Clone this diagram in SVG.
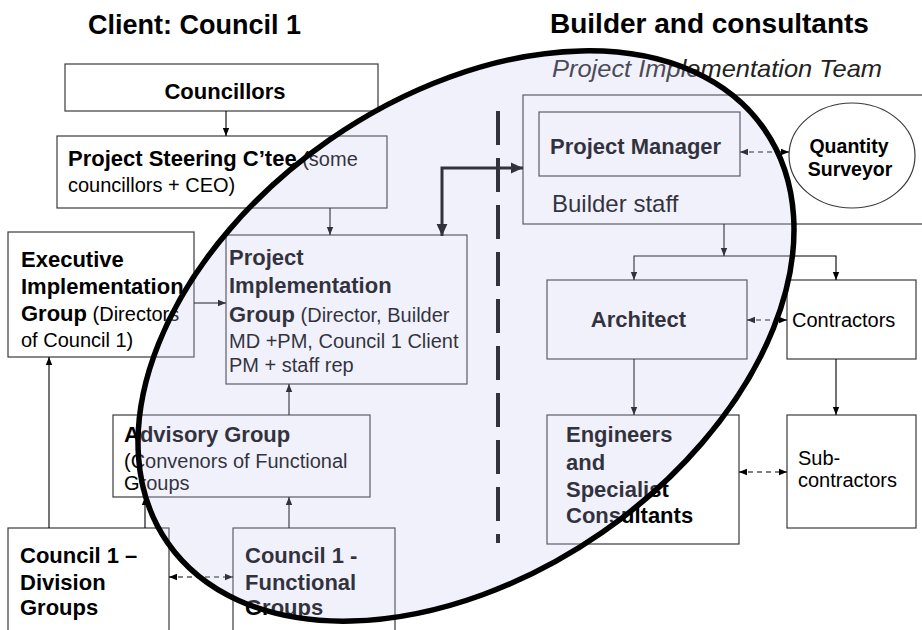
<svg xmlns="http://www.w3.org/2000/svg" width="922" height="630" viewBox="0 0 922 630">
<style>
.box{fill:#ffffff;stroke:#3a3a3a;stroke-width:1.2}
.b{font-family:"Liberation Sans",Arial,sans-serif;font-weight:bold;font-size:22px;fill:#000}
.r{font-family:"Liberation Sans",Arial,sans-serif;font-weight:normal;font-size:20px;fill:#000}
.t{font-family:"Liberation Sans",Arial,sans-serif;font-weight:bold;font-size:27px;fill:#000}
.ln{fill:none;stroke:#000;stroke-width:1.1}
.dl{fill:none;stroke:#000;stroke-width:1.1;stroke-dasharray:5 4}
</style>
<defs>
<marker id="ah" viewBox="0 0 10 10" refX="10" refY="5" markerWidth="8" markerHeight="8" markerUnits="userSpaceOnUse" orient="auto-start-reverse"><path d="M0,1 L10,5 L0,9 z" fill="#000"/></marker>
<marker id="ahb" viewBox="0 0 10 10" refX="10" refY="5" markerWidth="13" markerHeight="12" markerUnits="userSpaceOnUse" orient="auto-start-reverse"><path d="M0,0.5 L10,5 L0,9.5 z" fill="#000"/></marker>
</defs>
<g id="titles">
<text class="t" x="88" y="34">Client: Council 1</text>
<text class="t" x="550" y="33" style="font-size:28px">Builder and consultants</text>
<text x="552" y="77" font-family="Liberation Sans, Arial, sans-serif" font-style="italic" font-size="24" fill="#222" textLength="330" lengthAdjust="spacingAndGlyphs">Project Implementation Team</text>
</g>
<g id="councillors"><rect class="box" x="65" y="64" width="313" height="47"/><text class="b" x="225" y="99" text-anchor="middle">Councillors</text></g>
<g id="steering"><rect class="box" x="57" y="136" width="330" height="72"/><text class="b" x="68" y="166">Project Steering C’tee<tspan class="r"> (some</tspan></text><text class="r" x="68" y="192">councillors + CEO)</text></g>
<g id="executive"><rect class="box" x="8" y="232" width="186" height="125"/><text class="b" x="21" y="267">Executive</text><text class="b" x="21" y="294">Implementation</text><text class="b" x="21" y="321">Group<tspan class="r"> (Directors</tspan></text><text class="r" x="21" y="347">of Council 1)</text></g>
<g id="pig"><rect class="box" x="226" y="235" width="241" height="149"/><text class="b" x="229" y="265">Project</text><text class="b" x="229" y="293">Implementation</text><text class="b" x="229" y="322">Group<tspan class="r"> (Director, Builder</tspan></text><text class="r" x="229" y="348">MD +PM, Council 1 Client</text><text class="r" x="229" y="372">PM + staff rep</text></g>
<g id="advisory"><rect class="box" x="113" y="415" width="257" height="82"/><text class="b" x="124" y="442">Advisory Group</text><text class="r" x="124" y="468">(Convenors of Functional</text><text class="r" x="124" y="490">Groups</text></g>
<g id="division"><rect class="box" x="8" y="528" width="161" height="120"/><text class="b" x="20" y="563">Council 1 –</text><text class="b" x="20" y="590">Division</text><text class="b" x="20" y="615">Groups</text></g>
<g id="functional"><rect class="box" x="233" y="528" width="162" height="120"/><text class="b" x="245" y="563">Council 1 -</text><text class="b" x="245" y="590">Functional</text><text class="b" x="245" y="615">Groups</text></g>
<g id="builder"><rect class="box" x="523" y="95" width="410" height="129"/><text x="552" y="212" font-family="Liberation Sans, Arial, sans-serif" font-size="24" fill="#000">Builder staff</text></g>
<g id="pm"><rect class="box" x="539" y="112" width="201" height="64"/><text class="b" x="550" y="154">Project Manager</text></g>
<g id="qs"><ellipse cx="852" cy="155.5" rx="63" ry="52.5" fill="#fff" stroke="#3a3a3a" stroke-width="1.2"/><text class="b" x="849" y="153" text-anchor="middle" style="font-size:19.5px">Quantity</text><text class="b" x="850" y="176" text-anchor="middle" style="font-size:19.5px">Surveyor</text></g>
<g id="architect"><rect class="box" x="547" y="280" width="200" height="79"/><text class="b" x="638.5" y="327" text-anchor="middle">Architect</text></g>
<g id="contractors"><rect class="box" x="787" y="280" width="129" height="79"/><text class="r" x="792" y="327">Contractors</text></g>
<g id="engineers"><rect class="box" x="547" y="415" width="192" height="129"/><text class="b" x="566" y="442">Engineers</text><text class="b" x="566" y="470">and</text><text class="b" x="566" y="497">Specialist</text><text class="b" x="566" y="523">Consultants</text></g>
<g id="subcontractors"><rect class="box" x="787" y="415" width="129" height="113"/><text class="r" x="798" y="465">Sub-</text><text class="r" x="798" y="487">contractors</text></g>
<g id="connectors">
<path class="ln" d="M226,111 V136" marker-end="url(#ah)"/>
<path class="ln" d="M330,208 V235" marker-end="url(#ah)"/>
<path class="ln" d="M194,303 H226" marker-end="url(#ah)"/>
<path class="ln" d="M289,415 V384" marker-end="url(#ah)"/>
<path class="ln" d="M289,528 V497" marker-end="url(#ah)"/>
<path class="ln" d="M145,528 V497" marker-end="url(#ah)"/>
<path class="ln" d="M49,528 V357" marker-end="url(#ah)"/>
<path class="dl" d="M169,577 H233" marker-start="url(#ah)" marker-end="url(#ah)"/>
<path d="M442,236 V168 H523" fill="none" stroke="#000" stroke-width="3" marker-start="url(#ahb)" marker-end="url(#ahb)"/>
<path class="dl" d="M740,152 H789" marker-start="url(#ah)" marker-end="url(#ah)"/>
<path class="ln" d="M724,224 V256" marker-end="url(#ah)"/>
<path class="ln" d="M634,280 V256 H836 V280" marker-start="url(#ah)" marker-end="url(#ah)"/>
<path class="dl" d="M747,320 H787" marker-start="url(#ah)" marker-end="url(#ah)"/>
<path class="ln" d="M634,359 V415" marker-end="url(#ah)"/>
<path class="ln" d="M836,359 V415" marker-end="url(#ah)"/>
<path class="dl" d="M739,472 H787" marker-start="url(#ah)" marker-end="url(#ah)"/>
</g>
<g id="divider"><path d="M498,111 V543" stroke="#000" stroke-width="4" stroke-dasharray="34 13" fill="none"/></g>
<g id="team-ellipse"><ellipse cx="466" cy="336" rx="363" ry="239" transform="rotate(-34.7 466 336)" fill="#c8c8f5" fill-opacity="0.25" stroke="#000" stroke-width="5.5"/></g>
</svg>
